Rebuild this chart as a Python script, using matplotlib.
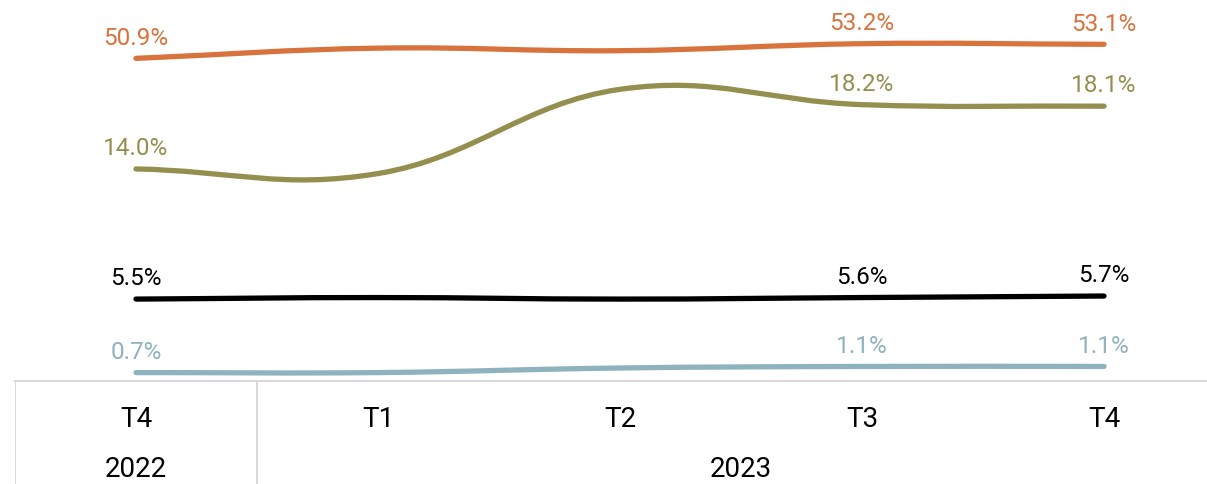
import matplotlib
matplotlib.use("Agg")
import matplotlib.pyplot as plt
from matplotlib.path import Path
from matplotlib.patches import PathPatch

plt.rcParams['font.family'] = ['Roboto', 'DejaVu Sans']

quarters = ["T4", "T1", "T2", "T3", "T4"]
years = ["2022", "2023"]
year_spans = [(0, 0), (1, 4)]

# right axis (0-60)
orange = [50.9, 52.5, 52.1, 53.2, 53.1]
# left axis (0-25)
olive = [14.0, 13.7, 19.2, 18.2, 18.1]
black = [5.5, 5.6, 5.5, 5.6, 5.7]
blue = [0.7, 0.7, 1.0, 1.1, 1.1]

labelled = [0, 3, 4]


def smooth_path(xs, ys, t=0.4):
    # bezier control points, chart.js style
    verts = [(xs[0], ys[0])]
    codes = [Path.MOVETO]
    n = len(xs)
    for i in range(n - 1):
        p = (i - 1) if i > 0 else i
        q = (i + 2) if i + 2 < n else i + 1
        f1 = t / 2 if i > 0 else t
        f2 = t / 2 if i + 2 < n else t
        c1 = (xs[i] + f1 * (xs[i + 1] - xs[p]), ys[i] + f1 * (ys[i + 1] - ys[p]))
        c2 = (xs[i + 1] - f2 * (xs[q] - xs[i]), ys[i + 1] - f2 * (ys[q] - ys[i]))
        verts += [c1, c2, (xs[i + 1], ys[i + 1])]
        codes += [Path.CURVE4] * 3
    return Path(verts, codes)


W, H = 1207, 485
fig = plt.figure(figsize=(W / 100, H / 100), dpi=100)
left = 15 / W
bottom = 103 / H
ax = fig.add_axes([left, bottom, 1 - left, 1 - bottom])
ax2 = ax.twinx()
x = list(range(len(quarters)))
for a in (ax, ax2):
    a.set_xlim(-0.5, -0.5 + (W - 15) / 242)
    a.set_xticks([])
    a.set_yticks([])
    for s in a.spines.values():
        s.set_visible(False)
ax.set_ylim(0.15, 25.1)
ax2.set_ylim(0.35, 60.2)
ax.spines['bottom'].set_visible(True)
ax.spines['bottom'].set_color('#d9d9d9')
ax.spines['bottom'].set_linewidth(1.5)

series = [
    (ax2, orange, '#d9733d'),
    (ax, olive, '#948f4f'),
    (ax, black, '#000000'),
    (ax, blue, '#8fb2bf'),
]
for a, vals, col in series:
    a.add_patch(PathPatch(smooth_path(x, vals), fill=False, edgecolor=col,
                          lw=3.8, capstyle='round', joinstyle='round'))
    for i in labelled:
        a.annotate(f"{vals[i]:.1f}%", (x[i], vals[i]), xytext=(0, 7),
                   textcoords='offset points', ha='center', va='bottom',
                   fontsize=17.5, color=col)

# table-like x axis
axt = fig.add_axes([left, 0, 1 - left, bottom])
axt.set_xlim(ax.get_xlim())
axt.set_ylim(0, 1)
axt.axis('off')
for xv in (-0.5, 0.5):
    axt.axvline(xv, color='#d9d9d9', lw=1.5)
for i, q in enumerate(quarters):
    axt.text(i, 0.64, q, ha='center', va='center', fontsize=20)
for yr, (a0, a1) in zip(years, year_spans):
    axt.text((a0 + a1) / 2 if a1 == a0 else (a0 - 0.5 + a1 + 0.5) / 2,
             0.15, yr, ha='center', va='center', fontsize=20)

fig.savefig("out.png", dpi=100)
